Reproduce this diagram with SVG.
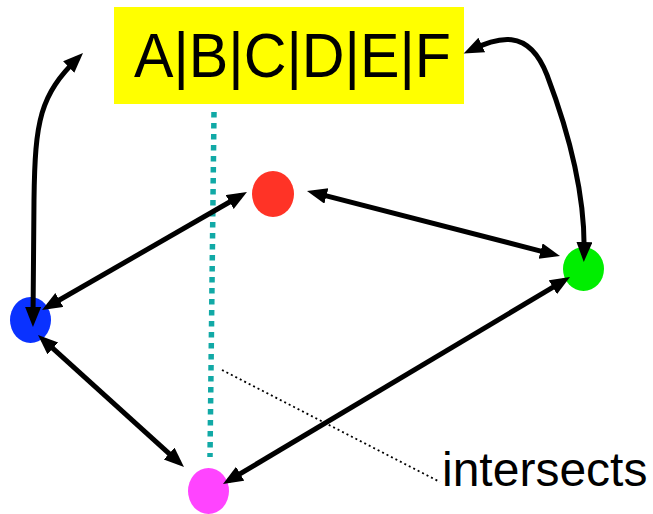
<svg xmlns="http://www.w3.org/2000/svg" width="653" height="514" viewBox="0 0 653 514">
  <style>
    .conn { fill: none; stroke: #000; stroke-width: 5; marker-start: url(#ah); marker-end: url(#ah); }
    .label { font-family: "Liberation Sans", Arial, sans-serif; fill: #000; }
  </style>
  <defs>
    <marker id="ah" markerUnits="userSpaceOnUse" markerWidth="22" markerHeight="17" refX="13" refY="8" orient="auto-start-reverse" viewBox="0 0 22 17">
      <path d="M0,0 L20,8 L0,16 Z" fill="#000"/>
    </marker>
  </defs>
  <rect width="653" height="514" fill="#fff"/>

  <g id="header">
    <rect x="114" y="7" width="350" height="97" fill="#ffff00"/>
    <text class="label" x="134" y="77" font-size="63" textLength="317" lengthAdjust="spacingAndGlyphs">A|B|C|D|E|F</text>
  </g>

  <g id="annotation">
    <line x1="214" y1="112" x2="210" y2="457" stroke="#11a9a6" stroke-width="5.5" stroke-dasharray="5.5 5.5"/>
    <line x1="222" y1="370" x2="440" y2="482" stroke="#000" stroke-width="1.8" stroke-dasharray="2 3"/>
    <text class="label" x="442" y="486" font-size="48">intersects</text>
  </g>

  <g id="node-red"><ellipse cx="273" cy="194" rx="21" ry="23" fill="#ff3326"/></g>
  <g id="node-blue"><ellipse cx="30.5" cy="320" rx="20.5" ry="23" fill="#0a32ff"/></g>
  <g id="node-green"><ellipse cx="583.5" cy="269" rx="20.5" ry="22" fill="#00ee00"/></g>
  <g id="node-magenta"><ellipse cx="208.5" cy="491" rx="20.5" ry="23" fill="#ff44ff"/></g>

  <g id="connectors">
    <path class="conn" d="M48.1,306.5 L240.9,195.5"/>
    <path class="conn" d="M313.8,192.7 L553.2,254.3"/>
    <path class="conn" d="M43.2,339.7 L178.8,462.3"/>
    <path class="conn" d="M229,480.4 L564,280.6"/>
    <path class="conn" d="M33,320 L34,200 C35,120 40,95 78,58"/>
    <path class="conn" d="M470,50.5 C497,38 528,26 547,75 C566,125 586,190 584,255"/>
  </g>
</svg>
